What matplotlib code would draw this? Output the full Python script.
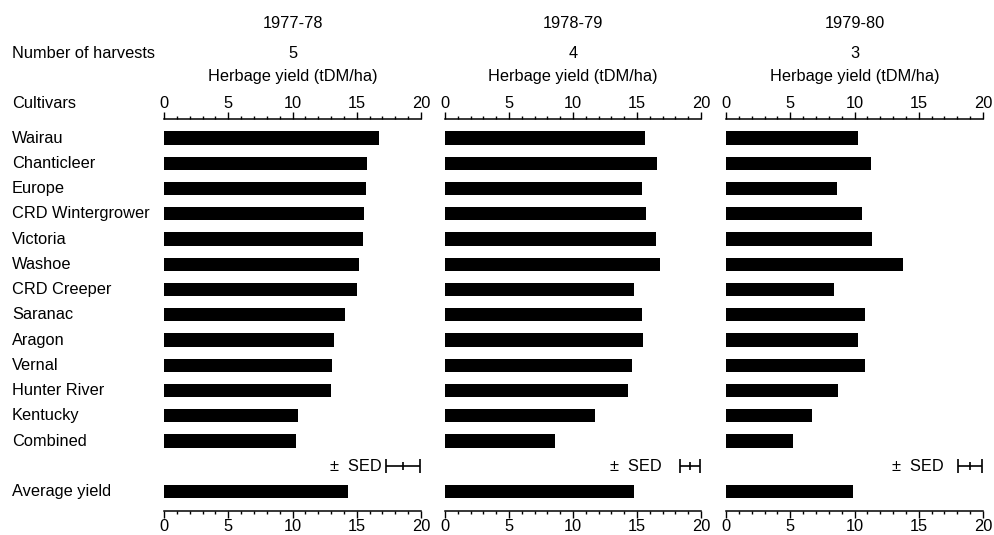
import numpy as np
import matplotlib
matplotlib.use('Agg')
import matplotlib.pyplot as plt
from matplotlib.ticker import MultipleLocator
from matplotlib.transforms import blended_transform_factory

plt.rcParams['font.family'] = ['Liberation Sans', 'DejaVu Sans']
plt.rcParams['font.size'] = 11.8

# datos
seasons = ['1977-78', '1978-79', '1979-80']
harvests = [5, 4, 3]
cultivars = ['Wairau', 'Chanticleer', 'Europe', 'CRD Wintergrower', 'Victoria',
             'Washoe', 'CRD Creeper', 'Saranac', 'Aragon', 'Vernal',
             'Hunter River', 'Kentucky', 'Combined']

yield_7778 = [16.7, 15.8, 15.7, 15.6, 15.5, 15.2, 15.0, 14.1, 13.2, 13.1, 13.0, 10.4, 10.3]
yield_7879 = [15.6, 16.6, 15.4, 15.7, 16.5, 16.8, 14.8, 15.4, 15.5, 14.6, 14.3, 11.7, 8.6]
yield_7980 = [10.3, 11.3, 8.6, 10.6, 11.4, 13.8, 8.4, 10.8, 10.3, 10.8, 8.7, 6.7, 5.2]
avg_yield = [14.3, 14.8, 9.9]
sed = [1.33, 0.81, 0.96]

all_yields = [yield_7778, yield_7879, yield_7980]

fig = plt.figure(figsize=(9.94, 5.35), dpi=100)
W, H = 994, 535

# posiciones de paneles en pixeles (izq, der)
panel_px = [(164, 421), (445, 701), (726, 983)]
y_top, y_bot = 119, 511

n = len(cultivars)
row_sed = n
row_avg = n + 1
bar_h = 0.53

# filas: centro de Wairau en y=138 px, paso 25.25 px
row0, step = 138, 25.25
ylim_top = (y_top - row0) / step
ylim_bot = (y_bot - row0) / step

axes = []
for k, (x0, x1) in enumerate(panel_px):
    ax = fig.add_axes([x0 / W, 1 - y_bot / H, (x1 - x0) / W, (y_bot - y_top) / H])
    axes.append(ax)
    ypos = np.arange(n)
    ax.barh(ypos, all_yields[k], height=bar_h, color='black', align='center')
    ax.barh([row_avg], [avg_yield[k]], height=bar_h, color='black', align='center')

    # SED
    c = 19.95 - sed[k]
    ax.errorbar([c], [row_sed], xerr=[sed[k]], fmt='none', ecolor='black',
                elinewidth=1.2, capsize=4.7, capthick=1.2)
    ax.plot([c], [row_sed], marker='|', ms=6, mew=1.2, color='black')
    ax.text(16.9, row_sed, '±  SED', ha='right', va='center')

    ax.set_xlim(0, 20)
    ax.set_ylim(ylim_bot, ylim_top)
    ax.spines['left'].set_visible(False)
    ax.spines['right'].set_visible(False)
    ax.spines['top'].set_linewidth(1.1)
    ax.spines['bottom'].set_linewidth(1.1)
    ax.set_yticks([])
    ax.xaxis.set_major_locator(MultipleLocator(5))
    ax.xaxis.set_minor_locator(MultipleLocator(1))
    ax.tick_params(axis='x', which='both', top=True, bottom=True,
                   labeltop=True, labelbottom=True, direction='out', width=1.0)
    ax.tick_params(axis='x', which='major', length=5, pad=1.0, labelsize=11.8)
    ax.tick_params(axis='x', which='minor', length=2.5)

    trans = blended_transform_factory(ax.transAxes, fig.transFigure)
    ax.text(0.5, 1 - 23 / H, seasons[k], transform=trans, ha='center', va='center')
    ax.text(0.5, 1 - 53 / H, str(harvests[k]), transform=trans, ha='center', va='center')
    ax.text(0.5, 1 - 77 / H, 'Herbage yield (tDM/ha)', transform=trans,
            ha='center', va='center')

# etiquetas de la izquierda
tr = blended_transform_factory(fig.transFigure, axes[0].transData)
for i, name in enumerate(cultivars):
    axes[0].text(12 / W, i, name, transform=tr, ha='left', va='center')
axes[0].text(12 / W, row_avg, 'Average yield', transform=tr, ha='left', va='center')

fig.text(12 / W, 1 - 53 / H, 'Number of harvests', ha='left', va='center')
fig.text(12 / W, 1 - 103 / H, 'Cultivars', ha='left', va='center')

fig.savefig('out.png', dpi=100, facecolor='white')
